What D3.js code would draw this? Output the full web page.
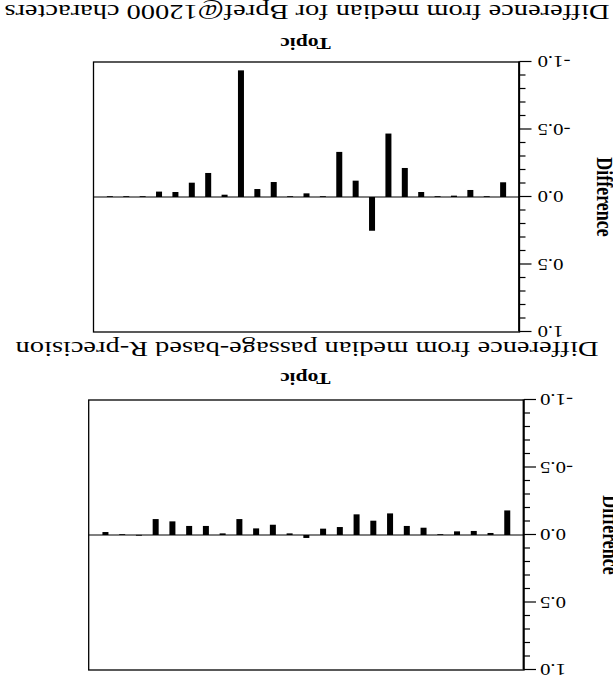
<!DOCTYPE html>
<html><head><meta charset="utf-8">
<script src="https://cdn.jsdelivr.net/npm/d3@7"></script>
<style>body{margin:0;background:#fff}svg{display:block}</style>
</head><body>
<svg id="c" width="613" height="688"></svg>
<script>
// Topics (25), listed in the chart's natural (unrotated) left-to-right order
const topics = d3.range(1, 26);
// Difference from median passage-based R-precision
const rprecValues = [-0.182, -0.015, -0.03, -0.027, -0.005, -0.054, -0.067, -0.160, -0.106, -0.153, -0.059, -0.047, 0.022, -0.012, -0.076, -0.049, -0.118, -0.012, -0.067, -0.067, -0.101, -0.118, 0.005, -0.003, -0.022];
// Difference from median for Bpref@12000 characters
const bprefValues = [-0.109, -0.005, -0.052, -0.01, -0.005, -0.037, -0.215, -0.47, 0.25, -0.121, -0.334, -0.005, -0.027, -0.005, -0.111, -0.059, -0.938, -0.017, -0.178, -0.106, -0.037, -0.04, -0.005, -0.005, -0.005];
const yMajorTicks = [-1.0, -0.5, 0.0, 0.5, 1.0];
const yMinorTicks = d3.range(-10, 11).filter(v => v % 5 !== 0).map(v => v / 10);
const captions = ["Difference from median passage-based R-precision", "Difference from median for Bpref@12000 characters"];
const xTitle = "Topic";
const yTitle = "Difference";

const FONT = "'Liberation Serif','Times New Roman',serif";
const SX = 1.3;
const fmt = v => d3.format(".1f")(v).replace("\u2212", "-");
const svg = d3.select("#c");
svg.append("rect").attr("width", 613).attr("height", 688).attr("fill", "#fff");
const root = svg.append("g").attr("transform", "rotate(180,306.5,344)");

const panels = [
  {values: rprecValues, caption: captions[0], left: 89, right: 524.3, top: 18, bottom: 288, capY: 346.5, topicY: 315, diffX: 10, gap: 16},
  {values: bprefValues, caption: captions[1], left: 93.5, right: 519.5, top: 356, bottom: 626, capY: 683.5, topicY: 650, diffX: 16, gap: 18}
];

panels.forEach(p => {
  const g = root.append("g");
  const x = d3.scalePoint().domain(topics).range([p.left, p.right]).padding(1);
  const y = d3.scaleLinear().domain([-1, 1]).range([p.bottom, p.top]);
  const bw = 6;

  g.append("rect").attr("x", p.left).attr("y", p.top)
    .attr("width", p.right - p.left).attr("height", p.bottom - p.top)
    .attr("fill", "none").attr("stroke", "#000").attr("stroke-width", 1.3);

  g.append("line").attr("x1", p.left).attr("x2", p.right)
    .attr("y1", y(0)).attr("y2", y(0)).attr("stroke", "#000").attr("stroke-width", 1.1);

  g.selectAll("rect.bar").data(p.values).join("rect").attr("class", "bar")
    .attr("x", (d, i) => x(topics[i]) - bw / 2)
    .attr("y", d => Math.min(y(d), y(0)))
    .attr("width", bw)
    .attr("height", d => Math.max(0.8, Math.abs(y(d) - y(0))))
    .attr("fill", "#000");

  const minor = g.append("g").attr("transform", `translate(${p.left},0)`)
    .call(d3.axisLeft(y).tickValues(yMinorTicks).tickSize(6).tickFormat(""));
  minor.select(".domain").remove();
  minor.selectAll("line").attr("stroke-width", 1.2);

  const ax = g.append("g").attr("transform", `translate(${p.left},0)`)
    .call(d3.axisLeft(y).tickValues(yMajorTicks).tickSize(12).tickSizeOuter(0).tickFormat(fmt));
  ax.select(".domain").attr("stroke-width", 1.8);
  ax.selectAll("line").attr("stroke-width", 1.2);
  ax.selectAll("text")
    .attr("font-family", FONT).attr("font-size", 16).attr("fill", "#000")
    .attr("x", -p.gap / SX).attr("dy", "0.34em")
    .attr("transform", `scale(${SX},1)`);

  g.append("text").attr("transform", `translate(${(p.left + p.right) / 2 + 1},${p.topicY}) scale(${SX},1)`)
    .attr("text-anchor", "middle").attr("font-family", FONT).attr("font-weight", "bold")
    .attr("font-size", 16.5).text(xTitle);

  g.append("text").attr("transform", `translate(${p.diffX},${y(0)}) rotate(-90) scale(1,${SX})`)
    .attr("text-anchor", "middle").attr("font-family", FONT).attr("font-weight", "bold")
    .attr("font-size", 18).text(yTitle);

  p.capNode = g.append("text").attr("x", 306).attr("y", p.capY)
    .attr("text-anchor", "middle").attr("font-family", FONT).attr("font-size", 21).text(p.caption);
});

const w1 = panels[1].capNode.node().getComputedTextLength();
const k = 605 / w1;
panels.forEach(p => {
  const w = p.capNode.node().getComputedTextLength();
  p.capNode.attr("textLength", w * k).attr("lengthAdjust", "spacingAndGlyphs");
});
</script>
</body></html>
